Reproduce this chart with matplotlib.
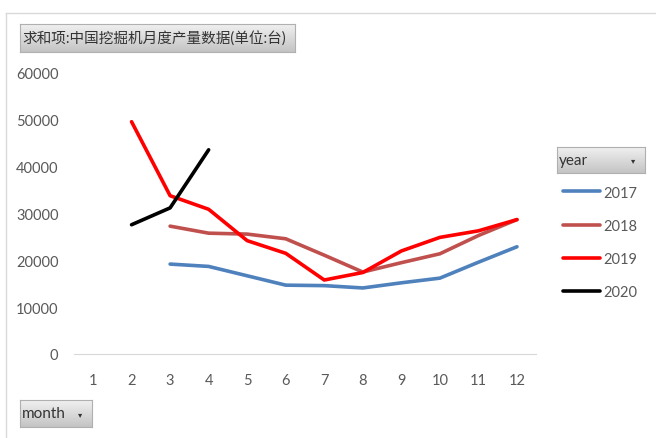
import matplotlib
matplotlib.use("Agg")
import matplotlib.pyplot as plt
import numpy as np
from matplotlib.lines import Line2D
from matplotlib.colors import LinearSegmentedColormap

plt.rcParams['font.family'] = ['Lato', 'Noto Sans CJK SC', 'DejaVu Sans']

months = [1, 2, 3, 4, 5, 6, 7, 8, 9, 10, 11, 12]
years = ['2017', '2018', '2019', '2020']
colors = ['#4F81BD', '#C0504D', '#FF0000', '#000000']

m2017 = [3, 4, 5, 6, 7, 8, 9, 10, 11, 12]
v2017 = [19200, 18700, 16700, 14700, 14600, 14100, 15200, 16200, 19600, 22900]
m2018 = [3, 4, 5, 6, 7, 8, 9, 10, 11, 12]
v2018 = [27300, 25800, 25600, 24600, 21100, 17500, 19500, 21400, 25300, 28700]
m2019 = [2, 3, 4, 5, 6, 7, 8, 9, 10, 11, 12]
v2019 = [49600, 33800, 30900, 24200, 21500, 15800, 17400, 22000, 24900, 26300, 28700]
m2020 = [2, 3, 4]
v2020 = [27600, 31200, 43600]

yticks = [0, 10000, 20000, 30000, 40000, 50000, 60000]
title_text = '求和项:中国挖掘机月度产量数据(单位:台)'

W, H = 656, 439
fig = plt.figure(figsize=(W / 100, H / 100), dpi=100)

def fx(px):
    return px / W

def fy(py):
    return 1 - py / H

# outer frame lines
fig.add_artist(Line2D([fx(6), fx(656)], [fy(14), fy(14)], color='#D9D9D9', lw=1))
fig.add_artist(Line2D([fx(6), fx(6)], [fy(14), fy(439)], color='#D9D9D9', lw=1))

ax = fig.add_axes([fx(73.75), fy(355), fx(536.25 - 73.75), (355 - 74) / H])
series = [(m2017, v2017), (m2018, v2018), (m2019, v2019), (m2020, v2020)]
for (m, v), c, y in zip(series, colors, years):
    ax.plot(m, v, color=c, lw=2.6, label=y, solid_capstyle='round', solid_joinstyle='round')

ax.set_xlim(0.5, 12.5)
ax.set_ylim(0, 60000)
ax.set_xticks(months)
ax.set_xticklabels([str(m) for m in months])
ax.set_yticks(yticks)
ax.set_yticklabels([str(t) for t in yticks])
for s in ['top', 'right', 'left']:
    ax.spines[s].set_visible(False)
ax.spines['bottom'].set_color('#D9D9D9')
ax.tick_params(axis='both', length=0, colors='#595959', labelsize=10.5)
ax.tick_params(axis='y', pad=11)
ax.tick_params(axis='x', pad=14)

leg = ax.legend(loc='upper left', bbox_to_anchor=(fx(562.5), fy(186.5)), bbox_transform=fig.transFigure,
                frameon=False, fontsize=10.5, handlelength=2.6, handletextpad=0.2,
                labelspacing=1.31, borderpad=0, borderaxespad=0)
for t in leg.get_texts():
    t.set_color('#595959')

def button(x0, y0, x1, y1, text, arrow=False, fs=10.5):
    bax = fig.add_axes([fx(x0), fy(y1), fx(x1 - x0), (y1 - y0) / H])
    grad = np.linspace(0, 1, 50).reshape(-1, 1)
    cmap = LinearSegmentedColormap.from_list('g', ['#F0F0F0', '#C4C4C4'])
    bax.imshow(grad, aspect='auto', cmap=cmap, extent=[0, 1, 0, 1], origin='upper')
    bax.set_xlim(0, 1)
    bax.set_ylim(0, 1)
    bax.set_xticks([])
    bax.set_yticks([])
    for s in bax.spines.values():
        s.set_color('#B0B0B0')
        s.set_linewidth(0.8)
    bax.text(2 / (x1 - x0), 0.5, text, ha='left', va='center', fontsize=fs, color='#333333')
    if arrow:
        bax.text(1 - 12 / (x1 - x0), 0.5, '▾', ha='center', va='center', fontsize=6, color='#333333',
                 family=['DejaVu Sans'])
    return bax

button(20, 25, 295, 53, title_text, fs=10.5)
button(557, 148, 645, 174, 'year', arrow=True, fs=11)
button(20, 401, 92, 428, 'month', arrow=True, fs=11)

fig.savefig('out.png', dpi=100)
